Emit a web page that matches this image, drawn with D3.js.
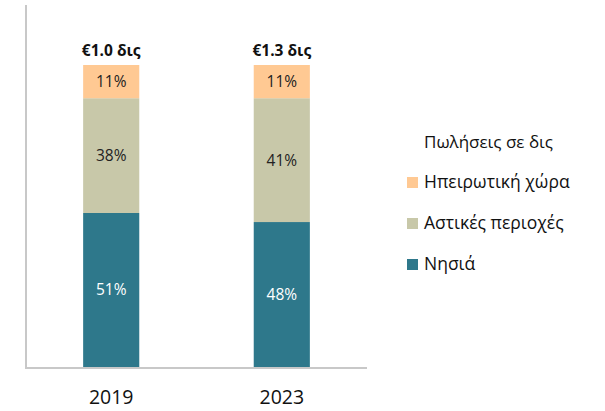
<!DOCTYPE html>
<html><head><meta charset="utf-8">
<script src="https://cdn.jsdelivr.net/npm/d3@7"></script>
<style>body{margin:0;background:#fff}svg{display:block}text{font-family:"Open Sans","Noto Sans",sans-serif}</style>
</head><body>
<script>
const years = ["2019", "2023"];
const totals = ["€1.0 δις", "€1.3 δις"];
const seriesNames = ["Νησιά", "Αστικές περιοχές", "Ηπειρωτική χώρα"];
const nisia = [51, 48];
const astikes = [38, 41];
const ipeirotiki = [11, 11];
const legendTitle = "Πωλήσεις σε δις";
const colors = ["#2E788B", "#C8C8A9", "#FFC993"];
const labelColors = ["#ffffff", "#222222", "#222222"];

const W = 605, H = 411;
const svg = d3.select("body").append("svg").attr("width", W).attr("height", H);

const x = d3.scaleBand().domain(years).range([26, 367]).paddingInner(0.671).paddingOuter(0.335);
const y = d3.scaleLinear().domain([0, 100]).range([367, 65]);

const rows = years.map((yr, i) => ({year: yr, s0: nisia[i], s1: astikes[i], s2: ipeirotiki[i]}));
const stack = d3.stack().keys(["s0", "s1", "s2"])(rows);

stack.forEach((layer, li) => {
  const g = svg.append("g");
  g.selectAll("rect").data(layer).enter().append("rect")
    .attr("x", d => x(d.data.year))
    .attr("width", x.bandwidth())
    .attr("y", d => y(d[1]))
    .attr("height", d => y(d[0]) - y(d[1]))
    .attr("fill", colors[li]);
  g.selectAll("text").data(layer).enter().append("text")
    .attr("x", d => x(d.data.year) + x.bandwidth() / 2)
    .attr("y", d => (y(d[0]) + y(d[1])) / 2 + 5.5)
    .attr("text-anchor", "middle")
    .attr("font-size", 15.5)
    .attr("fill", labelColors[li])
    .text(d => (d[1] - d[0]) + "%");
});

// totals
svg.selectAll(".tot").data(years).enter().append("text")
  .attr("x", d => x(d) + x.bandwidth() / 2)
  .attr("y", y(100) - 9)
  .attr("text-anchor", "middle")
  .attr("font-size", 15.5)
  .attr("font-weight", "bold")
  .attr("fill", "#111")
  .text((d, i) => totals[i]);

// axes lines
svg.append("line").attr("x1", 26).attr("x2", 26).attr("y1", 5).attr("y2", 368)
  .attr("stroke", "#c8c8c8").attr("stroke-width", 2);
const xAxis = svg.append("g").attr("transform", "translate(0,368)")
  .call(d3.axisBottom(x).tickSize(0).tickPadding(22));
xAxis.select(".domain").attr("stroke", "#c8c8c8").attr("stroke-width", 2).attr("d", "M25,0H367");
xAxis.selectAll("text").attr("font-size", 19.5).attr("fill", "#111").attr("font-family", "Open Sans, Noto Sans, sans-serif");

// legend
svg.append("text").attr("x", 424).attr("y", 148).attr("font-size", 17).attr("fill", "#111").text(legendTitle);
const legOrder = [2, 1, 0];
const lg = svg.selectAll(".lg").data(legOrder).enter().append("g")
  .attr("transform", (d, i) => `translate(407,${188 + i * 41})`);
lg.append("rect").attr("x", 0).attr("y", -11).attr("width", 11).attr("height", 11).attr("fill", d => colors[d]);
lg.append("text").attr("x", 17).attr("y", 0).attr("font-size", 17.5).attr("fill", "#111").text(d => seriesNames[d]);
</script>
</body></html>
